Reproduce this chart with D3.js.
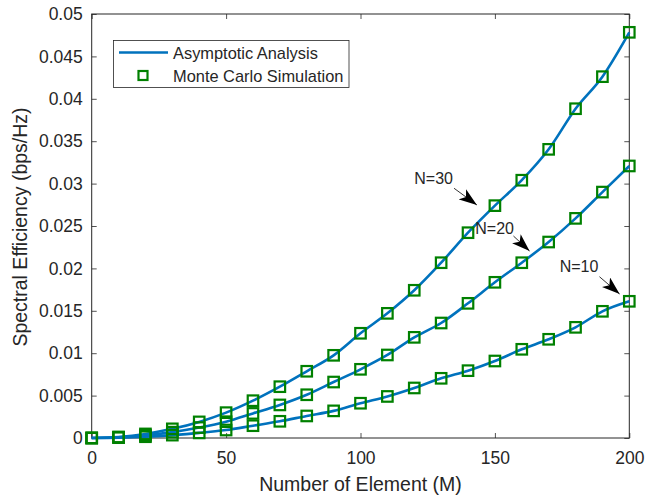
<!DOCTYPE html>
<html><head><meta charset="utf-8">
<script src="https://cdn.jsdelivr.net/npm/d3@7"></script>
<style>body{margin:0;background:#fff}svg{display:block}text{font-family:"Liberation Sans",Arial,sans-serif;fill:#262626}</style>
</head><body><svg id="c" width="657" height="498"></svg>
<script>
const M = [0,10,20,30,40,50,60,70,80,90,100,110,120,130,140,150,160,170,180,190,200];
const seriesN30 = [0,0.00012,0.00048,0.00108,0.0019,0.00299,0.0044,0.00605,0.00787,0.00975,0.01235,0.0147,0.01742,0.02067,0.02421,0.0274,0.0304,0.03404,0.03883,0.04261,0.04784];
const seriesN20 = [0,0.00008,0.00031,0.00069,0.00123,0.00192,0.0029,0.0039,0.0051,0.0066,0.0081,0.00979,0.01187,0.01356,0.01588,0.01836,0.02067,0.02311,0.0259,0.029,0.03208];
const seriesN10 = [0,0.00004,0.00015,0.00034,0.0006,0.00094,0.00145,0.00197,0.0026,0.0032,0.0041,0.0049,0.0059,0.00704,0.00794,0.00908,0.01046,0.01164,0.01305,0.01494,0.01612];
const xTicks = [0,50,100,150,200];
const yTicks = [0,0.005,0.01,0.015,0.02,0.025,0.03,0.035,0.04,0.045,0.05];
const yTickLabels = ["0","0.005","0.01","0.015","0.02","0.025","0.03","0.035","0.04","0.045","0.05"];
const legendLabels = ["Asymptotic Analysis","Monte Carlo Simulation"];
const annotations = [
  {text:"N=30", tx:127.2, ty:0.03066, x1:134.8, y1:0.02945, x2:143.3, y2:0.02748},
  {text:"N=20", tx:149.9, ty:0.02473, x1:156.9, y1:0.02382, x2:162.9, y2:0.02205},
  {text:"N=10", tx:181.3, ty:0.0202, x1:188.9, y1:0.01902, x2:196.4, y2:0.01698}
];
const series = [seriesN10, seriesN20, seriesN30];

const L=91.7, R=629.3, T=14, B=438;
const svg = d3.select("#c");
const x = d3.scaleLinear().domain([0,200]).range([L,R]);
const y = d3.scaleLinear().domain([0,0.05]).range([B,T]);
const axisCol="#262626";

const gx = svg.append("g").attr("transform",`translate(0,${B})`)
  .call(d3.axisBottom(x).tickValues(xTicks).tickSizeInner(-5).tickSizeOuter(0).tickPadding(14));
const gy = svg.append("g").attr("transform",`translate(${L},0)`)
  .call(d3.axisLeft(y).tickValues(yTicks).tickFormat((d,i)=>yTickLabels[i]).tickSizeInner(-5).tickSizeOuter(0).tickPadding(9));
const gxt = svg.append("g").attr("transform",`translate(0,${T})`)
  .call(d3.axisTop(x).tickValues(xTicks).tickSizeInner(-5).tickSizeOuter(0).tickFormat(""));
const gyr = svg.append("g").attr("transform",`translate(${R},0)`)
  .call(d3.axisRight(y).tickValues(yTicks).tickSizeInner(-5).tickSizeOuter(0).tickFormat(""));
[gx,gy,gxt,gyr].forEach(g=>{
  g.select(".domain").remove();
  g.selectAll("line").attr("stroke",axisCol).attr("stroke-width",0.8);
  g.selectAll("text").attr("font-size",17.5).attr("fill",axisCol).attr("font-family","Liberation Sans, Arial, sans-serif");
});
svg.append("rect").attr("x",L).attr("y",T).attr("width",R-L).attr("height",B-T)
  .attr("fill","none").attr("stroke",axisCol).attr("stroke-width",1);

const line = d3.line().x((d,i)=>x(M[i])).y(d=>y(d)).curve(d3.curveMonotoneX);
series.forEach(s=>{
  svg.append("path").datum(s).attr("d",line).attr("fill","none")
    .attr("stroke","#0072BD").attr("stroke-width",2.6);
});
const ms=10.5;
series.forEach(s=>{
  svg.append("g").selectAll("rect").data(s).join("rect")
    .attr("x",(d,i)=>x(M[i])-ms/2).attr("y",d=>y(d)-ms/2)
    .attr("width",ms).attr("height",ms).attr("fill","none")
    .attr("stroke","#008000").attr("stroke-width",2.2);
});

const defs = svg.append("defs");
defs.append("marker").attr("id","ah").attr("viewBox","0 0 20 14").attr("refX",20).attr("refY",7)
  .attr("markerWidth",18).attr("markerHeight",13).attr("markerUnits","userSpaceOnUse").attr("orient","auto")
  .append("path").attr("d","M0,0 L20,7 L0,14 L5,7 Z").attr("fill","#000");
annotations.forEach(a=>{
  svg.append("line").attr("x1",x(a.x1)).attr("y1",y(a.y1)).attr("x2",x(a.x2)).attr("y2",y(a.y2))
    .attr("stroke","#000").attr("stroke-width",0.8).attr("marker-end","url(#ah)");
  svg.append("text").attr("x",x(a.tx)).attr("y",y(a.ty)).attr("text-anchor","middle")
    .attr("dominant-baseline","central").attr("font-size",16).attr("fill","#000").text(a.text);
});

svg.append("text").attr("x",(L+R)/2).attr("y",491).attr("text-anchor","middle")
  .attr("font-size",19.5).text("Number of Element (M)");
svg.append("text").attr("transform",`translate(27,${(T+B)/2+1}) rotate(-90)`).attr("text-anchor","middle")
  .attr("font-size",19.5).text("Spectral Efficiency (bps/Hz)");

const lg = svg.append("g");
lg.append("rect").attr("x",113.5).attr("y",40.5).attr("width",235.5).attr("height",47)
  .attr("fill","#fff").attr("stroke",axisCol).attr("stroke-width",0.8);
lg.append("line").attr("x1",119).attr("x2",168).attr("y1",52.5).attr("y2",52.5)
  .attr("stroke","#0072BD").attr("stroke-width",2.6);
lg.append("rect").attr("x",143-4.5).attr("y",75.5-4.5).attr("width",9).attr("height",9)
  .attr("fill","none").attr("stroke","#008000").attr("stroke-width",2.2);
lg.selectAll("text.l").data(legendLabels).join("text").attr("class","l")
  .attr("x",173).attr("y",(d,i)=>52.5+i*23).attr("dominant-baseline","central")
  .attr("font-size",16.4).text(d=>d);
</script></body></html>
